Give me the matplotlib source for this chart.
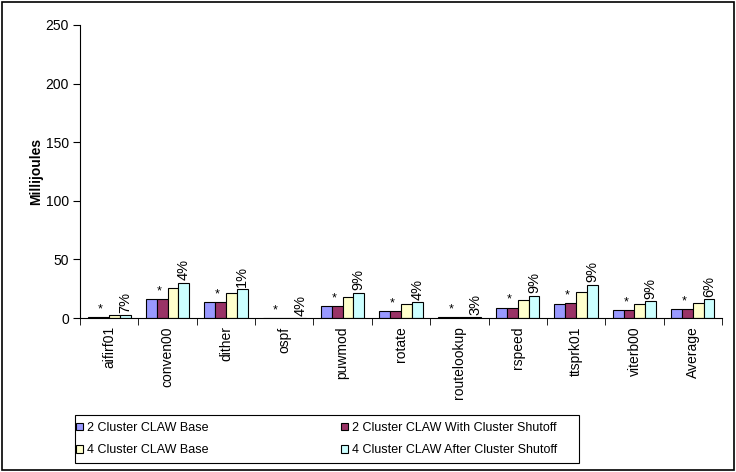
import numpy as np
import matplotlib.pyplot as plt
from matplotlib.patches import Rectangle

plt.rcParams['font.family'] = ['Liberation Sans', 'DejaVu Sans']

benchmarks = ["aifirf01", "conven00", "dither", "ospf", "puwmod", "rotate",
              "routelookup", "rspeed", "ttsprk01", "viterb00", "Average"]
series_names = ["2 Cluster CLAW Base", "2 Cluster CLAW With Cluster Shutoff",
                "4 Cluster CLAW Base", "4 Cluster CLAW After Cluster Shutoff"]
base2 = [1.0, 16.0, 13.4, 0.1, 10.0, 6.2, 0.5, 8.8, 11.7, 7.0, 7.9]
shutoff2 = [1.0, 16.0, 13.4, 0.1, 10.0, 6.2, 0.5, 8.8, 12.5, 7.0, 7.9]
base4 = [2.5, 26.0, 21.6, 0.1, 18.0, 11.7, 0.5, 15.4, 21.9, 11.7, 12.5]
after4 = [2.5, 30.0, 24.5, 0.1, 21.6, 13.7, 0.5, 19.0, 28.4, 14.5, 16.2]
pct_labels = ["7%", "4%", "1%", "4%", "9%", "4%", "3%", "9%", "9%", "9%", "6%"]
colors = ["#9999FF", "#993366", "#FFFFCC", "#CCFFFF"]

fig = plt.figure(figsize=(7.36, 4.72), dpi=100)
ax = fig.add_axes([80/736, 1-318/472, 642/736, 293/472])

x = np.arange(len(benchmarks))
w = 0.185
all_series = [base2, shutoff2, base4, after4]
bars = []
for k, vals in enumerate(all_series):
    b = ax.bar(x + (k - 1.5)*w, vals, w, color=colors[k], edgecolor="black",
               linewidth=0.8, label=series_names[k])
    bars.append(b)

for i in range(len(benchmarks)):
    ax.text(x[i] - 0.8*w, shutoff2[i] + 1.5, "*", ha="center", va="bottom", fontsize=9)
    ax.text(x[i] + 1.5*w, after4[i] + 2, pct_labels[i], rotation=90,
            ha="center", va="bottom", fontsize=10.5)

ax.set_xlim(-0.5, len(benchmarks) - 0.5)
ax.set_ylim(0, 250)
ax.set_yticks([0, 50, 100, 150, 200, 250])
ax.tick_params(axis="y", labelsize=10, length=5, pad=3, direction="out")
ax.set_xticks(x)
ax.set_xticklabels(benchmarks, rotation=90, fontsize=10)
ax.tick_params(axis="x", length=0, pad=6)
ax.set_xticks(np.arange(len(benchmarks) + 1) - 0.5, minor=True)
ax.tick_params(axis="x", which="minor", length=5, direction="out")
ax.spines["top"].set_visible(False)
ax.spines["right"].set_visible(False)
ax.set_ylabel("Millijoules", fontsize=10, fontweight="bold", labelpad=2)

# legend fills row by row in the reference; frame drawn separately
order = [0, 2, 1, 3]
leg = fig.legend([bars[k] for k in order], [series_names[k] for k in order],
                 loc="center left", bbox_to_anchor=(76/736, 1-439/472),
                 ncol=2, fontsize=9, frameon=False,
                 handlelength=0.55, handleheight=0.55, handletextpad=0.35,
                 borderpad=0, borderaxespad=0, labelspacing=0.85,
                 columnspacing=10.6)
fig.patches.append(Rectangle((75/736, 1-463/472), 504/736, 48/472, transform=fig.transFigure,
                             fill=False, edgecolor="black", linewidth=0.8))

fig.patches.append(Rectangle((0.003, 0.005), 0.994, 0.99, transform=fig.transFigure,
                             fill=False, edgecolor="black", linewidth=1.2))

fig.savefig("out.png", dpi=100)
